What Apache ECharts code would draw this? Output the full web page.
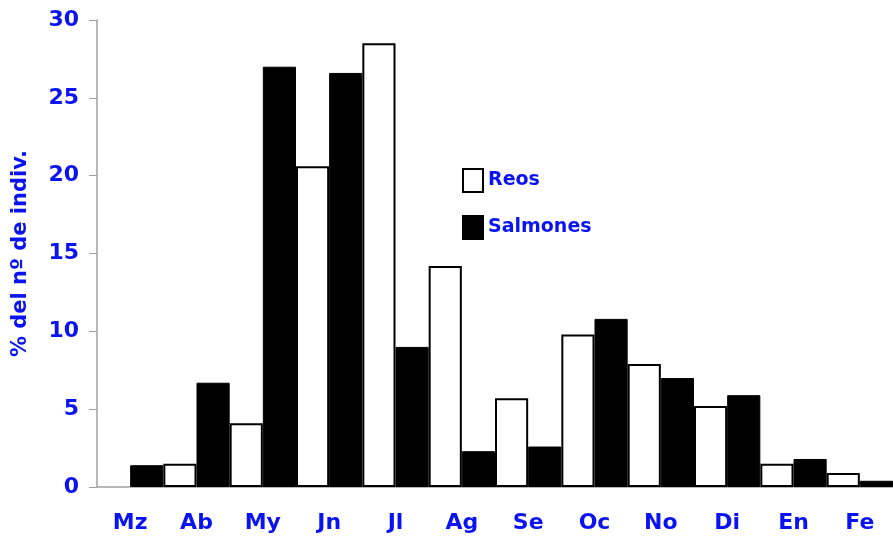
<!DOCTYPE html>
<html>
<head>
<meta charset="utf-8">
<script src="https://cdn.jsdelivr.net/npm/echarts@6/dist/echarts.min.js"></script>
<style>
  html, body { margin: 0; padding: 0; background: #fff; }
</style>
</head>
<body>
<div id="main" style="width:893px;height:541px;"></div>
<script>
  // meses
  var months = ['Mz', 'Ab', 'My', 'Jn', 'Jl', 'Ag', 'Se', 'Oc', 'No', 'Di', 'En', 'Fe']
  // % del nº de individuos (Mz sin reos)
  var reos = [null, 1.5, 4.1, 20.6, 28.5, 14.2, 5.7, 9.8, 7.9, 5.2, 1.5, 0.9]
  var salmones = [1.4, 6.7, 27.0, 26.6, 9.0, 2.3, 2.6, 10.8, 7.0, 5.9, 1.8, 0.4]

  var blue = '#0a14f0'
  var font = 'DejaVu Sans'

  var chart = echarts.init(document.getElementById('main'))
  chart.setOption({
    animation: false,
    grid: { left: 97, top: 20, width: 798, bottom: 54 },
    legend: {
      orient: 'vertical',
      left: 457,
      top: 163,
      itemWidth: 20,
      itemHeight: 23,
      itemGap: 22,
      icon: 'rect',
      textStyle: { color: blue, fontFamily: font, fontWeight: 'bold', fontSize: 19 },
      data: ['Reos', 'Salmones']
    },
    xAxis: {
      type: 'category',
      data: months,
      axisLine: { lineStyle: { color: '#a0a0a0', width: 1.5 } },
      axisTick: { length: 8, lineStyle: { color: '#a0a0a0' } },
      axisLabel: { color: blue, fontFamily: font, fontWeight: 'bold', fontSize: 22, margin: 25 }
    },
    yAxis: {
      type: 'value',
      min: 0,
      max: 30,
      interval: 5,
      name: '% del nº de indiv.',
      nameLocation: 'middle',
      nameGap: 66,
      nameTextStyle: { color: blue, fontFamily: font, fontWeight: 'bold', fontSize: 21 },
      splitLine: { show: false },
      axisLine: { show: true, lineStyle: { color: '#a0a0a0', width: 1.5 } },
      axisTick: { show: true, length: 8, lineStyle: { color: '#a0a0a0' } },
      axisLabel: { color: blue, fontFamily: font, fontWeight: 'bold', fontSize: 22, margin: 18 }
    },
    series: [
      {
        name: 'Reos',
        type: 'bar',
        data: reos,
        barGap: '0%',
        barCategoryGap: '0%',
        itemStyle: { color: '#fff', borderColor: '#000', borderWidth: 2 }
      },
      {
        name: 'Salmones',
        type: 'bar',
        data: salmones,
        barGap: '0%',
        barCategoryGap: '0%',
        itemStyle: { color: '#000', borderColor: '#000', borderWidth: 1 }
      }
    ]
  })
</script>
</body>
</html>
